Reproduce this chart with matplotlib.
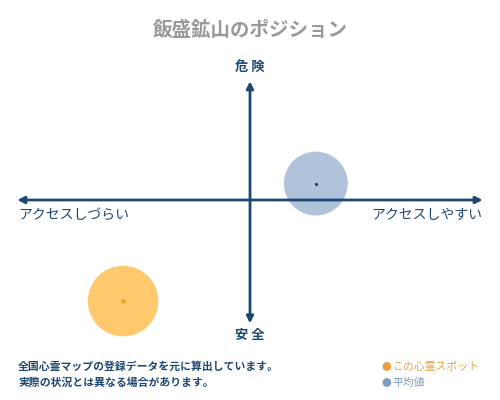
import matplotlib.pyplot as plt
from matplotlib.patches import Circle

plt.rcParams['font.family'] = ['Noto Sans CJK JP', 'DejaVu Sans']

title = '飯盛鉱山のポジション'
x_labels = ['アクセスしづらい', 'アクセスしやすい']
y_labels = ['安 全', '危 険']
series_names = ['この心霊スポット', '平均値']
# position on the access (x) / danger (y) scales, roughly -100..100
xs = [-54, 28]
ys = [-43, 7]
radius = [15, 13.6]
fill_colors = ['#fdc96c', '#b0c3da']
dot_colors = ['#f0a020', '#1f3f66']
text_colors = ['#e8a040', '#7d9cc0']
note = ['全国心霊マップの登録データを元に算出しています。',
        '実際の状況とは異なる場合があります。']

axis_col = '#1d4872'

fig = plt.figure(figsize=(5, 4), dpi=100)
ax = fig.add_axes([0, 0, 1, 1])
# 1 unit = 2.35 px, centre of the cross at pixel (250, 200)
ax.set_xlim(-250 / 2.35, 250 / 2.35)
ax.set_ylim(-200 / 2.35, 200 / 2.35)
ax.set_aspect('equal')
ax.axis('off')

for i in range(2):
    ax.add_patch(Circle((xs[i], ys[i]), radius[i], color=fill_colors[i], lw=0, zorder=1))
    ax.plot(xs[i], ys[i], 'o', ms=2 if i == 0 else 1.3, color=dot_colors[i], zorder=4)

arrow = dict(arrowstyle='<|-|>', color=axis_col, lw=2, mutation_scale=10, shrinkA=0, shrinkB=0)
ax.annotate('', xy=(-99, 0), xytext=(99, 0), arrowprops=arrow, zorder=3)
ax.annotate('', xy=(0, 50.5), xytext=(0, -52.5), arrowprops=arrow, zorder=3)

fig.text(0.5, 0.925, title, ha='center', va='center', fontsize=14, color='#999999', weight='bold')
fig.text(0.5, 0.833, y_labels[1], ha='center', va='center', fontsize=9.5, color=axis_col, weight='bold')
fig.text(0.5, 0.163, y_labels[0], ha='center', va='center', fontsize=9.5, color=axis_col, weight='bold')
fig.text(0.036, 0.462, x_labels[0], ha='left', va='center', fontsize=10, color=axis_col)
fig.text(0.964, 0.462, x_labels[1], ha='right', va='center', fontsize=10, color=axis_col)

fig.text(0.036, 0.083, note[0], ha='left', va='center', fontsize=7.8, color=axis_col, weight='bold')
fig.text(0.036, 0.043, note[1], ha='left', va='center', fontsize=7.8, color=axis_col, weight='bold')

for i, yy in enumerate([0.083, 0.043]):
    fig.text(0.762, yy, '●', ha='left', va='center', fontsize=7, color=text_colors[i])
    fig.text(0.784, yy, series_names[i], ha='left', va='center', fontsize=7.8, color=text_colors[i])

fig.savefig('out.png', dpi=100)
